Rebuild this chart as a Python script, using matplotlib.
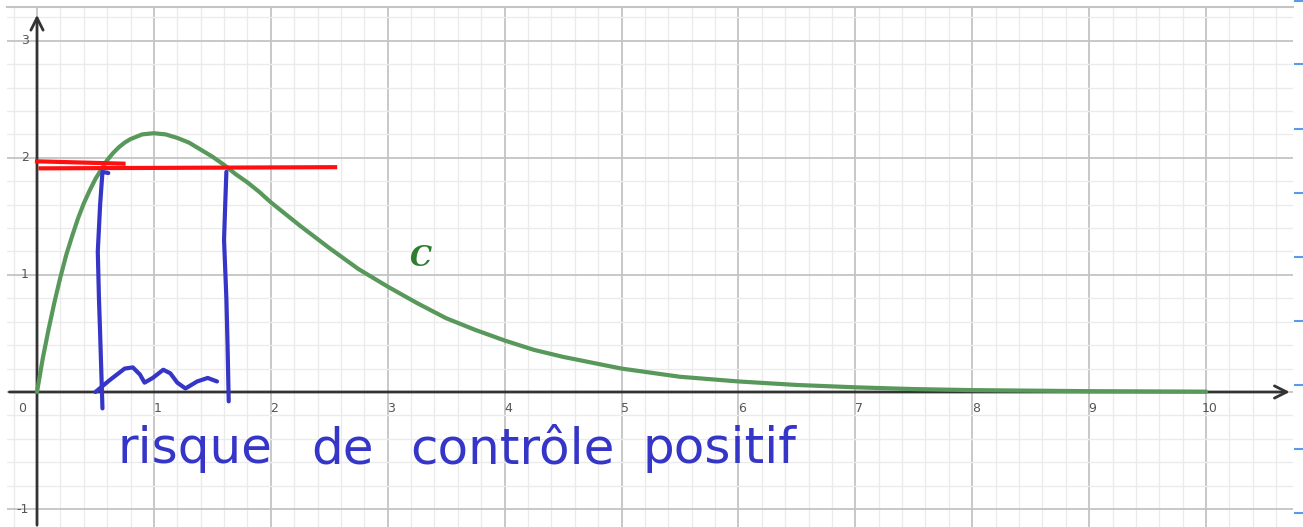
import matplotlib.pyplot as plt
from matplotlib.lines import Line2D

# courbe C relevée point par point
x_c = [0, 0.05, 0.1, 0.15, 0.2, 0.25, 0.3, 0.35, 0.4, 0.45, 0.5, 0.55, 0.6, 0.65, 0.7, 0.75,
       0.8, 0.9, 1.0, 1.1, 1.2, 1.3, 1.4, 1.5, 1.6, 1.7, 1.8, 1.9, 2.0, 2.1, 2.25, 2.5,
       2.75, 3.0, 3.25, 3.5, 3.75, 4.0, 4.25, 4.5, 4.75, 5.0, 5.5, 6.0, 6.5, 7.0, 7.5,
       8.0, 9.0, 10.0]
y_c = [0, 0.29, 0.54, 0.77, 0.98, 1.17, 1.33, 1.48, 1.61, 1.72, 1.82, 1.90, 1.98, 2.04, 2.09, 2.13,
       2.16, 2.20, 2.21, 2.20, 2.17, 2.13, 2.07, 2.01, 1.94, 1.86, 1.79, 1.71, 1.62, 1.54, 1.42, 1.23,
       1.05, 0.90, 0.76, 0.63, 0.53, 0.44, 0.36, 0.30, 0.25, 0.20, 0.13, 0.09, 0.06, 0.04, 0.025,
       0.016, 0.007, 0.003]

x_ticks = [0, 1, 2, 3, 4, 5, 6, 7, 8, 9, 10]
y_ticks = [-1, 1, 2, 3]

# traits rouges (niveau ~1.9)
red1_x = [0.0, 0.74]
red1_y = [1.97, 1.95]
red2_x = [0.03, 2.55]
red2_y = [1.91, 1.92]

# accolade bleue
left_x = [0.61, 0.56, 0.54, 0.52, 0.53, 0.54, 0.56]
left_y = [1.87, 1.88, 1.60, 1.20, 0.80, 0.50, -0.14]
right_x = [1.62, 1.61, 1.60, 1.62, 1.63, 1.64]
right_y = [1.88, 1.60, 1.30, 0.80, 0.40, -0.08]
wave_x = [0.50, 0.62, 0.75, 0.82, 0.88, 0.92, 0.99, 1.08, 1.14, 1.20, 1.27, 1.37, 1.46, 1.54]
wave_y = [0.00, 0.10, 0.20, 0.21, 0.15, 0.08, 0.12, 0.19, 0.16, 0.08, 0.03, 0.09, 0.12, 0.09]

words = ['risque', 'de', 'contrôle', 'positif']
words_x = [0.69, 2.35, 3.19, 5.18]
words_y = -0.61

fig = plt.figure(figsize=(13.03, 5.27), dpi=100)
ax = fig.add_axes([7 / 1303, 0, 1286 / 1303, 520 / 527])
ax.set_xlim(-0.2566, 10.744)
ax.set_ylim(-1.153, 3.288)

# quadrillage
ax.set_xticks(range(0, 11))
ax.set_yticks(range(-1, 4))
ax.set_xticks([i * 0.2 for i in range(-1, 54)], minor=True)
ax.set_yticks([i * 0.2 for i in range(-5, 17)], minor=True)
ax.grid(True, which='major', color='#c4c4c4', linewidth=1.3)
ax.grid(True, which='minor', color='#ebebeb', linewidth=1.0)
ax.tick_params(which='both', length=0, labelbottom=False, labelleft=False)
for side in ['left', 'right', 'bottom']:
    ax.spines[side].set_visible(False)
ax.spines['top'].set_color('#c4c4c4')
ax.spines['top'].set_linewidth(1.5)
ax.set_axisbelow(True)

# axes avec flèches
arrow = dict(arrowstyle='->', color='#333333', lw=2, mutation_scale=22)
ax.annotate('', xy=(10.74, 0), xytext=(-0.26, 0), arrowprops=arrow)
ax.annotate('', xy=(0, 3.245), xytext=(0, -1.16), arrowprops=arrow)

for v in x_ticks:
    xt = -0.13 if v == 0 else v + 0.03
    ax.text(xt, -0.14, str(v), color='#555555', fontsize=9, ha='center', va='center')
for v in y_ticks:
    ax.text(-0.07, v, str(v), color='#555555', fontsize=9, ha='right', va='center')

# courbe
ax.plot(x_c, y_c, color='#58985a', linewidth=3.0, solid_capstyle='round',
        solid_joinstyle='round', zorder=3)
ax.text(3.28, 1.14, 'C', color='#2e7d2e', fontsize=20, family='DejaVu Serif',
        fontweight='bold', fontstyle='italic', ha='center', va='center')

# annotations à la main
ax.plot(red1_x, red1_y, color='#ff1010', linewidth=3, zorder=4)
ax.plot(red2_x, red2_y, color='#ff1010', linewidth=3, zorder=4)
blue = '#3535c8'
for xs, ys in [(left_x, left_y), (right_x, right_y), (wave_x, wave_y)]:
    ax.plot(xs, ys, color=blue, linewidth=3.0, solid_capstyle='round', solid_joinstyle='round', zorder=4)
for w, wx in zip(words, words_x):
    ax.text(wx, words_y, w, color=blue, fontsize=36, ha='left', va='baseline')

# repères bleus dans la marge droite
for py in [1, 64, 129, 193, 257, 321, 385, 449, 513]:
    yf = 1 - py / 527
    fig.add_artist(Line2D([1295 / 1303, 1303 / 1303], [yf, yf], color='#5a9be6', linewidth=1.5))

fig.savefig('out.png', dpi=100)
